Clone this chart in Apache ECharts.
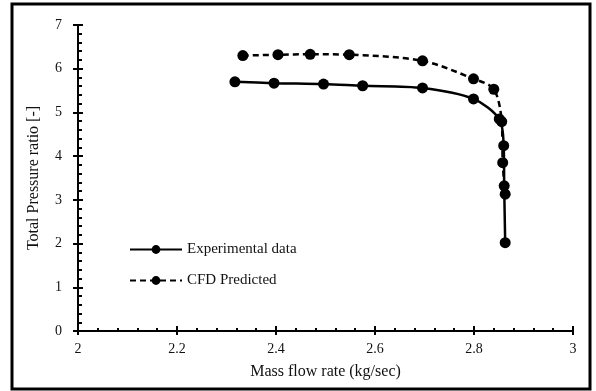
<!DOCTYPE html>
<html>
<head>
<meta charset="utf-8">
<script src="https://cdn.jsdelivr.net/npm/echarts@6/dist/echarts.min.js"></script>
<style>
  html, body { margin: 0; padding: 0; background: #fff; }
  #chart { width: 596px; height: 391px; }
</style>
</head>
<body>
<div id="chart"></div>
<script>
// Compressor map: total pressure ratio vs mass flow rate
const expFlow = [2.317, 2.396, 2.496, 2.575, 2.696, 2.799, 2.851, 2.860, 2.861, 2.863];
const expRatio = [5.70, 5.67, 5.65, 5.61, 5.56, 5.31, 4.85, 4.24, 3.32, 2.02];
const cfdFlow = [2.333, 2.404, 2.469, 2.548, 2.696, 2.799, 2.840, 2.856, 2.858, 2.863];
const cfdRatio = [6.30, 6.32, 6.33, 6.32, 6.18, 5.77, 5.53, 4.79, 3.85, 3.13];
const seriesNames = ['Experimental data', 'CFD Predicted'];

const pairs = (xs, ys) => xs.map((x, i) => [x, ys[i]]);
const font = '"Liberation Serif", "Times New Roman", serif';

const chart = echarts.init(document.getElementById('chart'), null, { renderer: 'canvas' });

const baseAxis = {
  axisLine: { show: true, lineStyle: { color: '#000', width: 2 } },
  splitLine: { show: false }
};

chart.setOption({
  backgroundColor: '#fff',
  animation: false,
  textStyle: { fontFamily: font },
  grid: { left: 78, right: 23, top: 25, bottom: 60, containLabel: false },
  graphic: [{
    type: 'rect',
    shape: { x: 12, y: 4, width: 578, height: 385 },
    style: { fill: 'none', stroke: '#000', lineWidth: 3 },
    z: 100
  }],
  legend: {
    orient: 'vertical',
    left: 124,
    top: 237,
    itemWidth: 52,
    itemHeight: 11,
    itemGap: 16,
    data: seriesNames,
    textStyle: { fontFamily: font, fontSize: 15, color: '#111' }
  },
  xAxis: [
    Object.assign({}, baseAxis, {
      type: 'value', min: 2, max: 3, interval: 0.2,
      name: 'Mass flow rate (kg/sec)', nameLocation: 'middle', nameGap: 33,
      nameTextStyle: { fontFamily: font, fontSize: 16, color: '#111' },
      axisTick: { show: true, inside: true, length: 5, lineStyle: { color: '#000', width: 2 } },
      minorTick: { show: true, splitNumber: 5, length: 3, lineStyle: { color: '#000', width: 2 } },
      axisLabel: { fontFamily: font, fontSize: 14, color: '#111', margin: 11,
        formatter: v => String(+v.toFixed(1)) }
    }),
    Object.assign({}, baseAxis, {
      type: 'value', min: 2, max: 3, interval: 0.2, position: 'bottom',
      axisTick: { show: true, inside: false, length: 4, lineStyle: { color: '#000', width: 2 } },
      axisLabel: { show: false }
    })
  ],
  yAxis: [
    Object.assign({}, baseAxis, {
      type: 'value', min: 0, max: 7, interval: 1,
      name: 'Total Pressure ratio [-]', nameLocation: 'middle', nameGap: 36,
      nameTextStyle: { fontFamily: font, fontSize: 16, color: '#111' },
      axisTick: { show: true, inside: true, length: 5, lineStyle: { color: '#000', width: 2 } },
      minorTick: { show: true, splitNumber: 5, length: 4, lineStyle: { color: '#000', width: 2 } },
      axisLabel: { fontFamily: font, fontSize: 14, color: '#111', margin: 16 }
    }),
    Object.assign({}, baseAxis, {
      type: 'value', min: 0, max: 7, interval: 1, position: 'left',
      axisTick: { show: true, inside: false, length: 5, lineStyle: { color: '#000', width: 2 } },
      axisLabel: { show: false }
    })
  ],
  series: [
    {
      name: seriesNames[0], type: 'line', smooth: 0.3,
      data: pairs(expFlow, expRatio),
      symbol: 'circle', symbolSize: 11,
      itemStyle: { color: '#000' },
      lineStyle: { color: '#000', width: 2.5, type: 'solid' },
      z: 3
    },
    {
      name: seriesNames[1], type: 'line', smooth: 0.3,
      data: pairs(cfdFlow, cfdRatio),
      symbol: 'circle', symbolSize: 11,
      itemStyle: { color: '#000' },
      lineStyle: { color: '#000', width: 2.5, type: [6, 4] },
      z: 2
    }
  ]
});
</script>
</body>
</html>
